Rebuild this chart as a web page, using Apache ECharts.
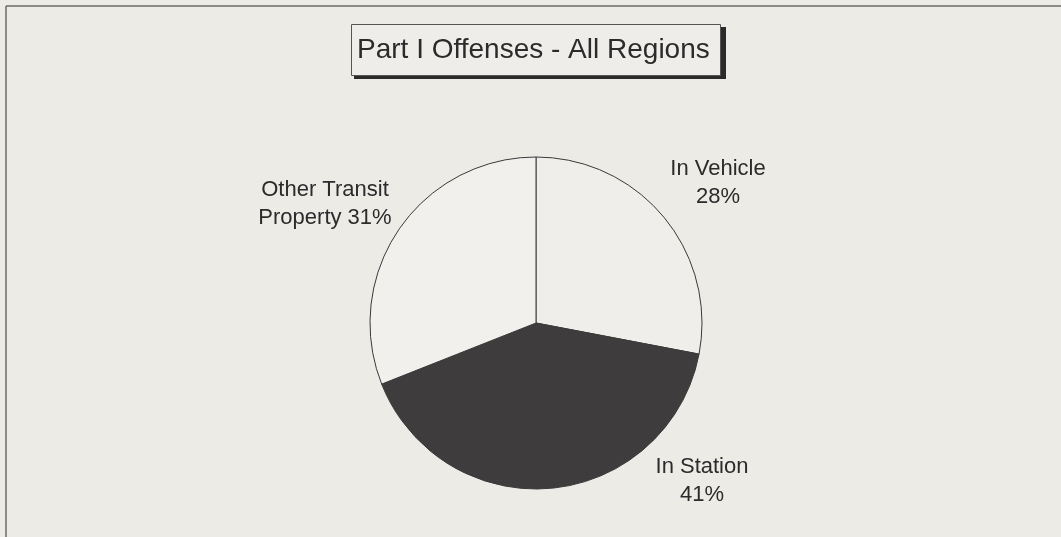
<!DOCTYPE html>
<html>
<head>
<meta charset="utf-8">
<script src="https://cdn.jsdelivr.net/npm/echarts@6/dist/echarts.min.js"></script>
<style>
  html, body { margin: 0; padding: 0; background: #ecebe6; }
  #chart { width: 1061px; height: 537px; }
</style>
</head>
<body>
<div id="chart"></div>
<script>
const titleText = 'Part I Offenses - All Regions';
const categories = ['In Vehicle', 'In Station', 'Other Transit Property'];
const labelHeads = ['In Vehicle\n', 'In Station\n', 'Other Transit\nProperty '];
const values = [28, 41, 31];
const sliceColors = ['#efeeea', '#3e3c3c', '#f1f0ec'];
const labelSpots = [[718, 183], [702, 481], [325, 204]];

const chart = echarts.init(document.getElementById('chart'), null, { renderer: 'canvas' });
const font = '"Liberation Sans", Arial, sans-serif';

chart.setOption({
  backgroundColor: '#ecebe6',
  animation: false,
  title: {
    text: titleText,
    left: 351,
    top: 24,
    padding: [12, 11, 12, 6],
    backgroundColor: '#eeede9',
    borderColor: '#555',
    borderWidth: 1,
    z: 10,
    textStyle: { fontFamily: font, fontSize: 28, fontWeight: 'normal', color: '#2b2b2b' }
  },
  graphic: [
    { type: 'line', z: 1, shape: { x1: 6, y1: 6, x2: 1061, y2: 6 }, style: { stroke: '#6a6a6a', lineWidth: 1.5 } },
    { type: 'line', z: 1, shape: { x1: 6, y1: 6, x2: 6, y2: 537 }, style: { stroke: '#6a6a6a', lineWidth: 1.5 } },
    { type: 'rect', z: 1, shape: { x: 354, y: 27, width: 372, height: 52 }, style: { fill: '#2a2a2a' } }
  ],
  series: [{
    type: 'pie',
    center: [536, 323],
    radius: [0, 166],
    startAngle: 90,
    clockwise: true,
    data: categories.map((c, i) => ({ name: c, value: values[i], itemStyle: { color: sliceColors[i] } })),
    itemStyle: { borderColor: '#3a3a3a', borderWidth: 1 },
    label: {
      show: true,
      position: 'outside',
      fontFamily: font,
      fontSize: 22,
      lineHeight: 28,
      color: '#2b2b2b',
      align: 'center',
      formatter: p => labelHeads[p.dataIndex] + p.percent.toFixed(0) + '%'
    },
    labelLine: { show: false },
    labelLayout: p => ({ x: labelSpots[p.dataIndex][0], y: labelSpots[p.dataIndex][1], align: 'center', verticalAlign: 'middle' }),
    emphasis: { disabled: true }
  }]
});
</script>
</body>
</html>
